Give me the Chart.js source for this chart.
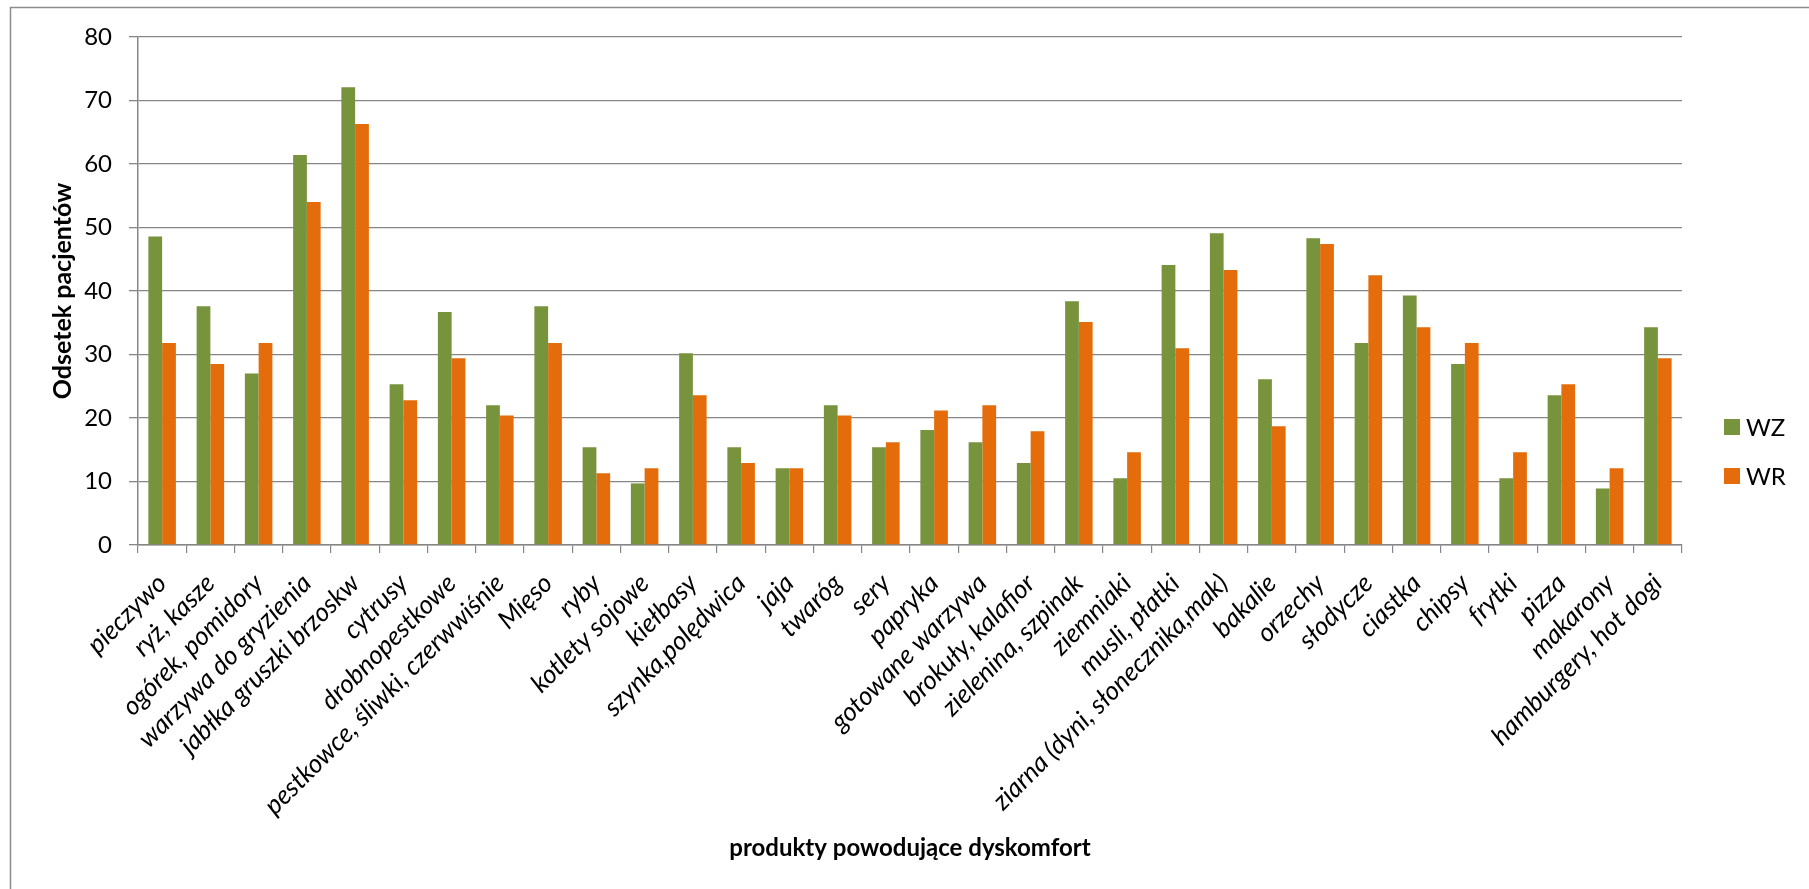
<!DOCTYPE html>
<html lang="pl">
<head>
<meta charset="utf-8">
<title>Produkty powodujące dyskomfort</title>
<script src="https://cdn.jsdelivr.net/npm/chart.js@4.4.1/dist/chart.umd.min.js"></script>
<style>
  html, body { margin: 0; padding: 0; background: #ffffff; }
  #wrap { width: 1809px; height: 889px; }
</style>
</head>
<body>
<div id="wrap"><canvas id="chart" width="1809" height="889"></canvas></div>
<script>
// Product categories on the x axis
const categories = [
  'pieczywo', 'ryż, kasze', 'ogórek, pomidory', 'warzywa do gryzienia',
  'jabłka gruszki brzoskw', 'cytrusy', 'drobnopestkowe', 'pestkowce, śliwki, czerwwiśnie',
  'Mięso', 'ryby', 'kotlety sojowe', 'kiełbasy', 'szynka,polędwica', 'jaja',
  'twaróg', 'sery', 'papryka', 'gotowane warzywa', 'brokuły, kalafior',
  'zielenina, szpinak', 'ziemniaki', 'musli, płatki', 'ziarna (dyni, słonecznika,mak)',
  'bakalie', 'orzechy', 'słodycze', 'ciastka', 'chipsy', 'frytki', 'pizza',
  'makarony', 'hamburgery, hot dogi'
];

// Share of patients (%) reporting discomfort, per group
const seriesNames = ['WZ', 'WR'];
const valuesWZ = [
  48.6, 37.6, 27.0, 61.4, 72.1, 25.3, 36.7, 22.0,
  37.6, 15.4, 9.7, 30.2, 15.4, 12.1, 22.0, 15.4,
  18.1, 16.2, 12.9, 38.4, 10.5, 44.1, 49.1, 26.1,
  48.3, 31.8, 39.3, 28.5, 10.5, 23.6, 8.9, 34.3
];
const valuesWR = [
  31.8, 28.5, 31.8, 54.0, 66.3, 22.8, 29.4, 20.4,
  31.8, 11.3, 12.1, 23.6, 12.9, 12.1, 20.4, 16.2,
  21.2, 22.0, 17.9, 35.1, 14.6, 31.0, 43.3, 18.7,
  47.4, 42.5, 34.3, 31.8, 14.6, 25.3, 12.1, 29.4
];

// Value axis ticks
const yTicks = [0, 10, 20, 30, 40, 50, 60, 70, 80];
const yTitle = 'Odsetek pacjentów';
const xTitle = 'produkty powodujące dyskomfort';

const FONT = 'Lato, "Open Sans", "Liberation Sans", sans-serif';
const GRID = '#868686';
const COLORS = ['#77933C', '#E46C0A'];

// Outer frame (top and left edges) of the chart object
const framePlugin = {
  id: 'frame',
  beforeDraw(chart) {
    const ctx = chart.ctx;
    ctx.save();
    ctx.strokeStyle = '#8c8c8c';
    ctx.lineWidth = 1.5;
    ctx.beginPath();
    ctx.moveTo(10.5, chart.height);
    ctx.lineTo(10.5, 7.5);
    ctx.lineTo(chart.width, 7.5);
    ctx.stroke();
    ctx.restore();
  }
};

// Legend at the right side, built from the datasets
const sideLegend = {
  id: 'sideLegend',
  afterDraw(chart) {
    const ctx = chart.ctx;
    const x = chart.chartArea.right + 42;
    const rows = [427, 476];
    ctx.save();
    ctx.font = '24px ' + FONT;
    ctx.textBaseline = 'middle';
    ctx.textAlign = 'left';
    chart.data.datasets.forEach((ds, i) => {
      const cy = rows[i];
      ctx.fillStyle = ds.backgroundColor;
      ctx.fillRect(x, cy - 8, 16, 16);
      ctx.fillStyle = '#000';
      ctx.fillText(ds.label, x + 22, cy + 1);
    });
    ctx.restore();
  }
};

new Chart(document.getElementById('chart'), {
  type: 'bar',
  data: {
    labels: categories,
    datasets: [
      { label: seriesNames[0], data: valuesWZ, backgroundColor: COLORS[0] },
      { label: seriesNames[1], data: valuesWR, backgroundColor: COLORS[1] }
    ]
  },
  options: {
    responsive: false,
    animation: false,
    devicePixelRatio: 1,
    categoryPercentage: 0.57,
    barPercentage: 1.0,
    layout: { padding: { top: 37, right: 127, bottom: 10, left: 0 } },
    plugins: {
      legend: { display: false },
      tooltip: { enabled: false }
    },
    scales: {
      x: {
        grid: {
          display: true,
          drawOnChartArea: false,
          drawTicks: true,
          tickLength: 8,
          color: GRID,
          lineWidth: 1.2
        },
        border: { display: true, color: GRID, width: 1.5 },
        ticks: {
          autoSkip: false,
          maxRotation: 45,
          minRotation: 45,
          padding: 15,
          color: '#000',
          font: { family: FONT, size: 26, style: 'italic' }
        },
        title: {
          display: true,
          text: xTitle,
          color: '#000',
          font: { family: FONT, size: 24, weight: 'bold' },
          padding: { top: 0, bottom: 16 }
        },
        afterFit(scale) { scale.height = 889 - 10 - 545; }
      },
      y: {
        min: 0,
        max: 80,
        afterBuildTicks(scale) { scale.ticks = yTicks.map(v => ({ value: v })); },
        grid: {
          color: GRID,
          lineWidth: 1.3,
          drawTicks: true,
          tickLength: 9
        },
        border: { display: true, color: GRID, width: 1.5 },
        ticks: {
          padding: 17,
          color: '#000',
          font: { family: FONT, size: 24 }
        },
        title: {
          display: true,
          text: yTitle,
          color: '#000',
          font: { family: FONT, size: 25, weight: 'bold' },
          padding: { top: 48, bottom: 0 }
        },
        afterFit(scale) { scale.width = 138; }
      }
    }
  },
  plugins: [framePlugin, sideLegend]
});
</script>
</body>
</html>
